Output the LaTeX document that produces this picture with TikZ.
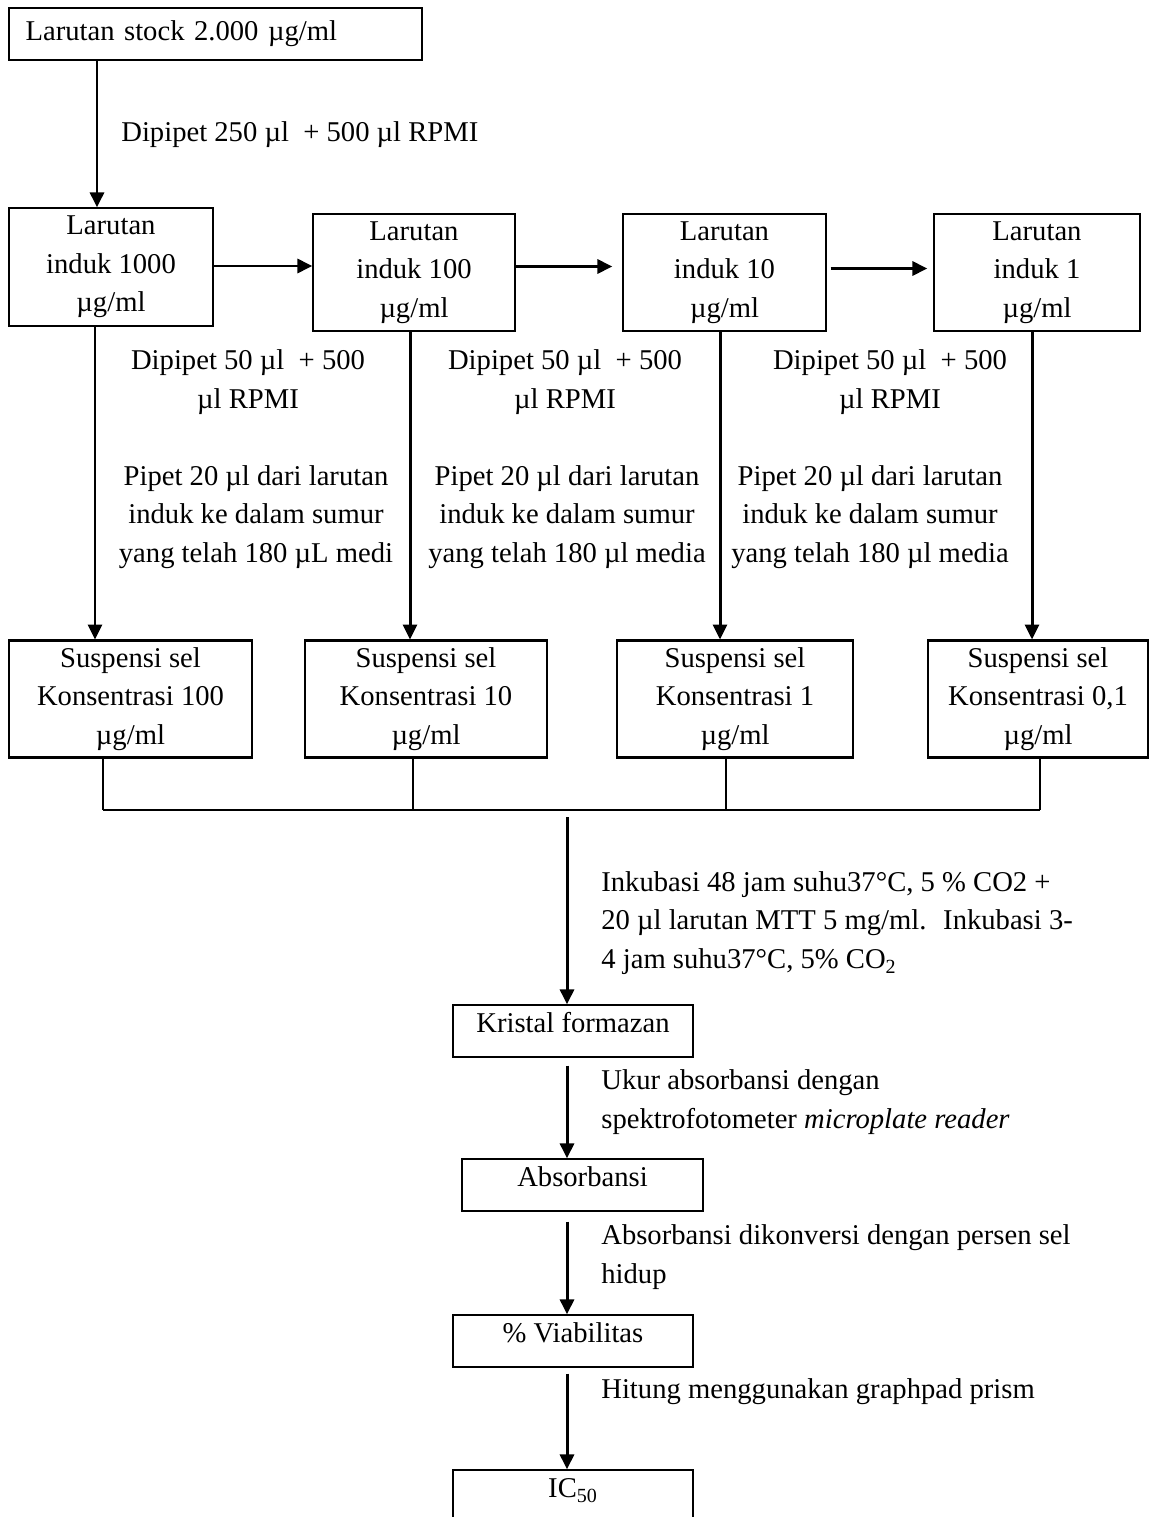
\documentclass[tikz,border=0pt]{standalone}
\usepackage{fontspec}
\setmainfont{Liberation Serif}
\usetikzlibrary{arrows.meta, positioning, calc}

\begin{document}
\begin{tikzpicture}[
  x=0.02cm, y=-0.02cm,
  font=\fontsize{16.3}{22}\selectfont,
  arrow/.style={-{Triangle[length=8.5pt, width=8pt]}, line width=1.7pt},
  link/.style={line width=0.8pt},
  stock_box/.style={draw, line width=0.8pt, minimum width=8.26cm, minimum height=1.04cm, text width=7.6cm, align=left, inner sep=0pt},
  induk_box/.style={draw, line width=0.8pt, minimum height=2.36cm, align=center, inner sep=0pt},
  sel_box/.style={draw, line width=1.2pt, minimum height=2.34cm, align=center, inner sep=0pt},
  step_box/.style={draw, line width=0.8pt, minimum width=4.8cm, minimum height=1.04cm, text height=12pt, text depth=10pt, align=center, inner sep=0pt},
  note/.style={align=center, inner sep=0pt},
  side_note/.style={align=left, anchor=west, inner sep=0pt}
]
  \useasboundingbox (0,0) rectangle (1150,1517);

  % Stock solution
  \node (stock) [stock_box] at (215.5,34) {Larutan stock 2.000 µg/ml};
  \node (lbl_stock) [side_note] at (121,135) {Dipipet 250 µl \ + 500 µl RPMI};

  % Mother solutions
  \node (induk1) [induk_box, minimum width=4.08cm] at (111,267) {Larutan\\induk 1000\\µg/ml};
  \node (induk2) [induk_box, minimum width=4.04cm, minimum height=2.34cm] at (414,272.5) {Larutan\\induk 100\\µg/ml};
  \node (induk3) [induk_box, minimum width=4.06cm, minimum height=2.34cm] at (724.5,272.5) {Larutan\\induk 10\\µg/ml};
  \node (induk4) [induk_box, minimum width=4.12cm, minimum height=2.34cm] at (1037,272.5) {Larutan\\induk 1\\µg/ml};

  % Dilution notes
  \node (dil1) [note] at (248,382) {Dipipet 50 µl \ + 500\\µl RPMI};
  \node (dil2) [note] at (565,382) {Dipipet 50 µl \ + 500\\µl RPMI};
  \node (dil3) [note] at (890,382) {Dipipet 50 µl \ + 500\\µl RPMI};

  \node (pip1) [note] at (256,517) {Pipet 20 µl dari larutan\\induk ke dalam sumur\\yang telah 180 µL medi};
  \node (pip2) [note] at (567,517) {Pipet 20 µl dari larutan\\induk ke dalam sumur\\yang telah 180 µl media};
  \node (pip3) [note] at (870,517) {Pipet 20 µl dari larutan\\induk ke dalam sumur\\yang telah 180 µl media};

  % Cell suspensions
  \node (sel1) [sel_box, minimum width=4.86cm] at (130.5,699) {Suspensi sel\\Konsentrasi 100\\µg/ml};
  \node (sel2) [sel_box, minimum width=4.84cm] at (426,699) {Suspensi sel\\Konsentrasi 10\\µg/ml};
  \node (sel3) [sel_box, minimum width=4.72cm] at (735,699) {Suspensi sel\\Konsentrasi 1\\µg/ml};
  \node (sel4) [sel_box, minimum width=4.40cm] at (1038,699) {Suspensi sel\\Konsentrasi 0,1\\µg/ml};

  % Assay steps
  \node (kristal) [step_box] at (573,1031) {Kristal formazan};
  \node (absorb) [step_box, minimum width=4.82cm] at (582.5,1185) {Absorbansi};
  \node (viab) [step_box] at (573,1341) {\% Viabilitas};
  \node (ic) [step_box] at (573,1496) {IC\textsubscript{50}};

  \node (lbl_ink) [side_note] at (601,923) {Inkubasi 48 jam suhu37°C, 5 \% CO2 +\\20 µl larutan MTT 5 mg/ml. \ Inkubasi 3-\\4 jam suhu37°C, 5\% CO\textsubscript{2}};
  \node (lbl_ukur) [side_note] at (601,1102) {Ukur absorbansi dengan\\spektrofotometer \textit{microplate reader}};
  \node (lbl_konv) [side_note] at (601,1257) {Absorbansi dikonversi dengan persen sel\\hidup};
  \node (lbl_hit) [side_note] at (601,1392) {Hitung menggunakan graphpad prism};

  % Guide points
  \coordinate (xa) at (97,0);
  \coordinate (xb) at (95,0);
  \coordinate (d1) at (103,810);
  \coordinate (d2) at (413,810);
  \coordinate (d3) at (726,810);
  \coordinate (d4) at (1040,810);
  \coordinate (xm) at (567,817);

  % Connections
  \draw[arrow] (stock.south -| xa) -- (induk1.north -| xa);
  \draw[arrow] ([yshift=0.02cm]induk1.east) -- ([yshift=0.02cm]induk1.east -| induk2.west);
  \draw[arrow, shorten >=0.2cm] ([yshift=0.12cm]induk2.east) -- ([yshift=0.12cm]induk2.east -| induk3.west);
  \draw[arrow, shorten <=0.08cm, shorten >=0.12cm] ([yshift=0.08cm]induk3.east) -- ([yshift=0.08cm]induk3.east -| induk4.west);

  \draw[arrow] (induk1.south -| xb) -- (sel1.north -| xb);
  \draw[arrow] ([xshift=-0.08cm]induk2.south) -- ([xshift=-0.08cm]induk2.south |- sel2.north);
  \draw[arrow] ([xshift=-0.09cm]induk3.south) -- ([xshift=-0.09cm]induk3.south |- sel3.north);
  \draw[arrow] ([xshift=-0.1cm]induk4.south) -- ([xshift=-0.1cm]induk4.south |- sel4.north);

  \draw[line width=1.6pt] (sel1.south -| d1) -- (d1);
  \draw[line width=1.3pt] (d1) -- (d4);
  \draw[link] (sel2.south -| d2) -- (d2);
  \draw[link] (sel3.south -| d3) -- (d3);
  \draw[link] (sel4.south -| d4) -- (d4);

  \draw[arrow] (xm) -- (xm |- kristal.north);
  \draw[arrow, shorten <=0.16cm] (kristal.south -| xm) -- (absorb.north -| xm);
  \draw[arrow, shorten <=0.2cm] (absorb.south -| xm) -- (viab.north -| xm);
  \draw[arrow, shorten <=0.12cm] (viab.south -| xm) -- (ic.north -| xm);

\end{tikzpicture}
\end{document}
